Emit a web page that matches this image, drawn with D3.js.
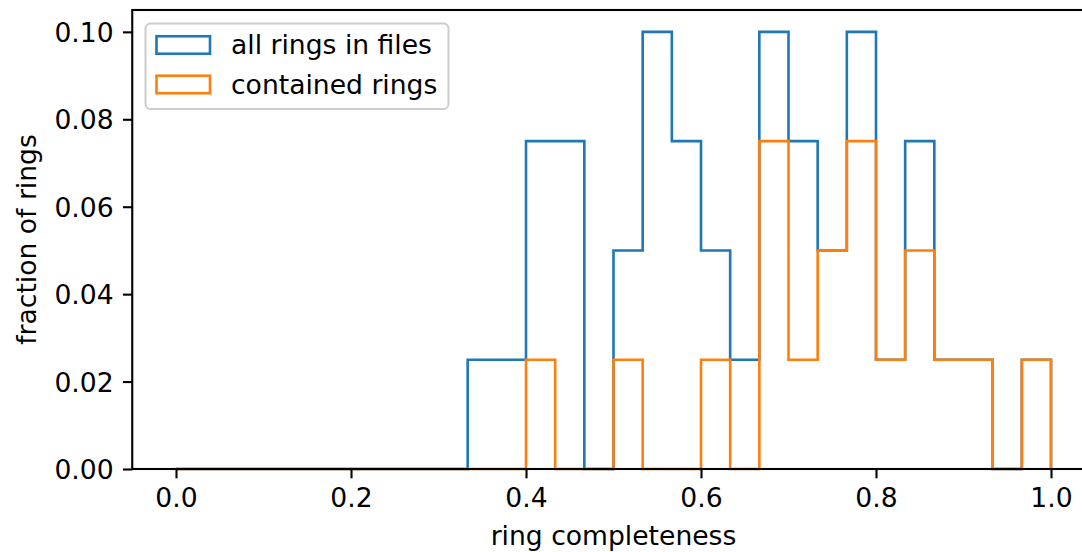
<!DOCTYPE html>
<html>
<head>
<meta charset="utf-8">
<script src="https://cdn.jsdelivr.net/npm/d3@7"></script>
<style>
  body { margin: 0; background: #fff; overflow: hidden; }
  svg text { font-family: "DejaVu Sans", sans-serif; fill: #000; }
</style>
</head>
<body>
<svg id="chart" width="1082" height="552"></svg>
<script>
// 30 equal bins on [0, 1]
var binEdges = d3.range(31).map(function(i) { return i / 30; });

// fraction of rings per bin
var allRings = [0, 0, 0, 0, 0, 0, 0, 0, 0, 0,
    0.025, 0.025, 0.075, 0.075, 0, 0.05, 0.1, 0.075, 0.05, 0.025,
    0.1, 0.075, 0.05, 0.1, 0.025, 0.075, 0.025, 0.025, 0, 0.025];
var containedRings = [0, 0, 0, 0, 0, 0, 0, 0, 0, 0,
    0, 0, 0.025, 0, 0, 0.025, 0, 0, 0.025, 0,
    0.075, 0.025, 0.05, 0.075, 0.025, 0.05, 0.025, 0.025, 0, 0.025];

var seriesNames = ["all rings in files", "contained rings"];
var seriesColors = ["#1f77b4", "#ff7f0e"];

var xTicks = [0, 0.2, 0.4, 0.6, 0.8, 1.0];
var yTicks = [0, 0.02, 0.04, 0.06, 0.08, 0.10];

var svg = d3.select("#chart");

var fontSize = 26.6, tickLen = 9.3;

// axes box (right edge falls outside the picture, as in the original)
var plotLeft = 132.25, plotRight = 1094.75, plotTop = 10, plotBottom = 469;

var x = d3.scaleLinear().domain([-0.05, 1.05]).range([plotLeft, plotRight]);
var y = d3.scaleLinear().domain([0, 0.105]).range([plotBottom, plotTop]);

// step outline like matplotlib histtype='step'
function stepPoints(heights) {
    var pts = [[binEdges[0], 0]];
    heights.forEach(function(h, i) {
        pts.push([binEdges[i], h]);
        pts.push([binEdges[i + 1], h]);
    });
    pts.push([binEdges[binEdges.length - 1], 0]);
    return pts;
}

var line = d3.line()
    .x(function(d) { return x(d[0]); })
    .y(function(d) { return y(d[1]); });

[allRings, containedRings].forEach(function(series, i) {
    svg.append("path")
        .datum(stepPoints(series))
        .attr("d", line)
        .attr("fill", "none")
        .attr("stroke", seriesColors[i])
        .attr("stroke-width", 2.6)
        .attr("stroke-linejoin", "miter");
});

// x axis
var xAxis = svg.append("g")
    .attr("transform", "translate(0," + plotBottom + ")")
    .call(d3.axisBottom(x).tickValues(xTicks).tickFormat(d3.format(".1f"))
        .tickSize(tickLen).tickPadding(tickLen).tickSizeOuter(0));
xAxis.select(".domain").remove();
xAxis.selectAll(".tick line").attr("stroke", "#000").attr("stroke-width", 2.1);
xAxis.selectAll(".tick text")
    .attr("font-size", fontSize)
    .attr("font-family", "DejaVu Sans")
    .attr("dy", null)
    .attr("y", 37.5);

// y axis
var yAxis = svg.append("g")
    .attr("transform", "translate(" + plotLeft + ",0)")
    .call(d3.axisLeft(y).tickValues(yTicks).tickFormat(d3.format(".2f"))
        .tickSize(tickLen).tickPadding(tickLen).tickSizeOuter(0));
yAxis.select(".domain").remove();
yAxis.selectAll(".tick line").attr("stroke", "#000").attr("stroke-width", 2.1);
yAxis.selectAll(".tick text")
    .attr("font-size", fontSize)
    .attr("font-family", "DejaVu Sans")
    .attr("x", -18.6)
    .attr("dy", "0.36em");

// spines
svg.append("rect")
    .attr("x", plotLeft)
    .attr("y", plotTop)
    .attr("width", plotRight - plotLeft)
    .attr("height", plotBottom - plotTop)
    .attr("fill", "none")
    .attr("stroke", "#000")
    .attr("stroke-width", 2.1);

// axis labels
svg.append("text")
    .attr("x", (plotLeft + plotRight) / 2)
    .attr("y", 545)
    .attr("text-anchor", "middle")
    .attr("font-size", fontSize)
    .text("ring completeness");

svg.append("text")
    .attr("transform", "translate(36," + (plotTop + plotBottom) / 2 + ") rotate(-90)")
    .attr("text-anchor", "middle")
    .attr("font-size", fontSize)
    .text("fraction of rings");

// legend
var legend = svg.append("g");
legend.append("rect")
    .attr("x", 145.5)
    .attr("y", 23.5)
    .attr("width", 303)
    .attr("height", 85.5)
    .attr("rx", 5)
    .attr("fill", "#fff")
    .attr("fill-opacity", 0.8)
    .attr("stroke", "#cccccc")
    .attr("stroke-width", 2);

seriesNames.forEach(function(name, i) {
    var cy = 45 + i * 39.5;
    legend.append("rect")
        .attr("x", 156.5)
        .attr("y", cy - 8.75)
        .attr("width", 53.5)
        .attr("height", 17.5)
        .attr("fill", "none")
        .attr("stroke", seriesColors[i])
        .attr("stroke-width", 2.6);
    legend.append("text")
        .attr("x", 231)
        .attr("y", cy + 9)
        .attr("font-size", fontSize)
        .text(name);
});
</script>
</body>
</html>
